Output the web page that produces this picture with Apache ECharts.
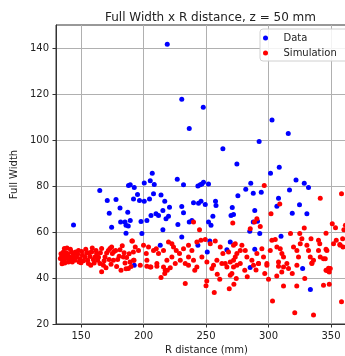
<!DOCTYPE html>
<html>
<head>
<meta charset="utf-8">
<script src="https://cdn.jsdelivr.net/npm/echarts@6/dist/echarts.min.js"></script>
<style>
  html, body { margin: 0; padding: 0; background: #fff; }
  #chart { width: 345px; height: 356px; }
</style>
</head>
<body>
<div id="chart"></div>
<script>
// [R distance (mm), Full Width]
const dataPoints = [
  [144, 63], [165, 78], [171, 73.7], [178, 74.1], [188, 80.2], [172.6, 68.2], [181.2, 70.4],
  [187.4, 68.6], [174.5, 62.1], [181.7, 64.3], [186, 62.9], [187.8, 62.6], [186, 59.5],
  [192.6, 45.5], [185.2, 64.3],
  [189.4, 80.5], [192.6, 79.4], [195.2, 76.3], [192, 74.4], [196.8, 73.7], [200.6, 73.4],
  [204.8, 74.4], [208, 76.6], [214, 76.1], [217, 73.4], [200.6, 81.3], [205.4, 82.3],
  [207, 85.5], [208.6, 80.6], [227, 82.9], [232, 80.5], [243.5, 80], [245.4, 80.5],
  [246.7, 80.9], [248, 81.6], [252, 80.9],
  [189.4, 65], [198, 64.6], [202.7, 65], [206, 67.2], [210, 67.9], [212, 67.2], [215.5, 69.4],
  [220.8, 70.8], [218, 65.8], [220, 66.8], [215.5, 61], [227.5, 63.3], [230.6, 71.1],
  [232, 68.4], [236.6, 64.3], [238.7, 65], [240, 72.7], [244, 72.5], [246, 73.4], [249.4, 72],
  [257.6, 73.4], [258, 71.5], [252, 64.3], [254, 62.9], [255.5, 66.8], [271, 70.6],
  [270, 67.2], [272, 67.6], [275.5, 75.8], [230.6, 57.8], [243.5, 54.2], [253, 56.1],
  [251, 51.3], [269.4, 55.6], [266.7, 52.3], [213.4, 54.2], [198.7, 59.3], [274.7, 89.6],
  [301.6, 85.5], [308.6, 88.1], [285.8, 81.2], [281.8, 78.6], [287.8, 76.8], [294.2, 77.3],
  [289, 69.4], [316.8, 78.3], [322, 82.6], [328.6, 81.2], [332, 79.4], [308, 74.7],
  [306.7, 71.2], [324.8, 71.8], [319, 68.2], [330.7, 67.9], [287.8, 64.3], [291.2, 64.7],
  [293, 59.3], [285, 60.3], [310, 58.2], [289, 52.5], [285.3, 44.6], [327.3, 44.1],
  [333.5, 35],
  [219, 141.6], [230.6, 117.7], [247.8, 114.2], [236.6, 105], [263.5, 96.2], [292.5, 99.4],
  [302.8, 108.7], [315.8, 102.8]
];

const simPoints = [
  // R 133-192
  [136.7, 52.8], [135.9, 51.3], [134.5, 49.1], [135.1, 47.7], [137.2, 48.4], [138.5, 49.9],
  [139.9, 47], [141.2, 49.1], [142.5, 51.3], [143.9, 50.3], [142, 48], [145.7, 51.3],
  [147.3, 50.3], [145.2, 47.7], [149.2, 48.4], [150, 46.6], [151.1, 49.9], [153.2, 49.1],
  [154.5, 50.9], [155.3, 47.7], [157.2, 49.4], [155.9, 46.3], [158.5, 51.3], [159.9, 48],
  [161.2, 49.1], [162.5, 50.6], [163.3, 47.7], [165.2, 46.3], [166.5, 42.7], [167.9, 45.5],
  [166.5, 52.8], [169.2, 49.1], [170.5, 50.9], [171.9, 52], [173.2, 52.8], [174.5, 53.5],
  [175.1, 50.6], [175.9, 47.7], [177.7, 52], [179.3, 48], [181.2, 52.3], [182, 43.4],
  [183.9, 49.1], [185.2, 46.5], [186.5, 48.9], [187.9, 44.1], [189.2, 47], [191.1, 56.1],
  [191.9, 51.3], [192.4, 47.7],
  [133.5, 48.5], [134, 50.5], [134.8, 46.2], [136, 49.5], [137, 46.5], [138, 51], [138.8, 53],
  [139.5, 50.5], [140.5, 48.5], [141.5, 52.5], [143, 47], [144, 49], [146.5, 49], [148, 52],
  [148.5, 47], [150.5, 51.5], [152, 47.5], [153.8, 52.5], [156.5, 51], [157.8, 45.5],
  [159, 53], [160.5, 46.5], [162, 52], [164, 49], [165.5, 51], [168.5, 47.5], [170, 44.5],
  [172.5, 48], [174, 46], [176.5, 51.5], [178.5, 45], [180.5, 49.5], [183, 54], [184.5, 51],
  [186, 44], [188.5, 50.5], [190, 45],
  // R 190-278
  [190.7, 56.1], [193.4, 53.5], [196, 52], [200, 54.2], [204, 53.5], [202.2, 50.6], [208, 52],
  [210.2, 52.7], [212, 50.6], [216, 52], [220, 55.6], [222.7, 54.9], [224, 53.5], [226.2, 52],
  [228.8, 50.6], [232, 52.7], [236, 54.2], [238.7, 52], [242.7, 55.6], [245.9, 56.4],
  [249.4, 56.7], [253.4, 54.9], [257.4, 56.1], [261.4, 53.5], [263.5, 50.6], [268, 51.3],
  [272, 54.2], [273.4, 49.1], [277.4, 52], [192, 47.7], [197.4, 45.5], [202.7, 47.7],
  [205.4, 44.8], [210.7, 46.3], [216, 44.8], [218.7, 47.7], [222.7, 49.1], [225.4, 46.3],
  [229.4, 47.7], [233.4, 46.3], [236, 49.1], [240, 47.7], [242.7, 44.8], [246.7, 49.1],
  [250.7, 47], [256, 45.5], [258.7, 47.7], [262.7, 46.3], [266.7, 44.8], [269.4, 47],
  [274.7, 45.5], [240, 64.3], [244.8, 61],
  [233.4, 37.6], [250, 36.6], [250.6, 38.7], [256.6, 33.7], [268.6, 35.3], [272.3, 37.3],
  [274.2, 39.8], [214, 40.2], [217, 42], [219, 43.4], [241, 43.4], [259, 41.6], [261, 39.5],
  [269.4, 41.2], [270.7, 42], [281, 43.4], [297, 42],
  [202.7, 45.1], [205.9, 44.8], [210.7, 45.1], [217.4, 43.4], [221.4, 44.5], [236, 45.5],
  [254.7, 44.1], [265.4, 46.3], [272, 44.8], [288, 45.5], [292, 46.3], [298.7, 46.3],
  [308, 45.1], [312, 44.8], [316, 44.1], [322.7, 45.5], [334.7, 46.5], [347.2, 43.1],
  [283, 40.5], [290, 43.5], [300, 39.5],
  // R 270-362
  [296.6, 80.2], [341.4, 74.7], [358.4, 76.6], [309, 72.2], [302, 67.9], [271.4, 63.9],
  [290.7, 65.8], [288.8, 64.3], [293.4, 62.4], [285.4, 61.4], [328.6, 61.7], [351, 63.6],
  [353.6, 61.9], [360.3, 61], [361.5, 62.9], [346, 59.5], [317.6, 59.3], [325, 59.3],
  [334, 57.1], [359.3, 57.1], [357, 54.6], [359.6, 53.5], [340, 56.4], [341, 54.9],
  [346, 52.5], [348, 44.2], [344, 48.4],
  [273.4, 54.9], [278.7, 54.2], [281.4, 52], [274.7, 50.6], [272, 47.7], [277.4, 46.3],
  [282.7, 49.1], [286.7, 47.7], [290.7, 50.6], [294.7, 52.7], [296, 49.1], [292, 46.3],
  [298.7, 45.5], [301.4, 52], [302.7, 56.4], [305.4, 56.7], [306.7, 53.5], [309.4, 52.7],
  [310.7, 50.6], [312, 49.1], [308, 47], [314.7, 46.3], [320, 53.5], [322.7, 52], [324, 49.1],
  [325.4, 54.9], [326.7, 57.1], [330.7, 54.2], [332, 52], [333.4, 49.1], [334.7, 46.3],
  [336, 47.7], [340, 52], [341.4, 49.1], [345.4, 48.4], [346.7, 52], [349.4, 44.1],
  [352, 54.9], [354.2, 56.4], [357.4, 54.2],
  [303.2, 30], [321, 24.9], [336, 23.9], [358.4, 29.7], [344, 36.9], [348.6, 37.3],
  [312, 36.5], [322.6, 36.5], [329, 39.8], [306.6, 40.9], [310.6, 42.6], [319, 42],
  [346, 43.4], [348.6, 42.6]
];

const xTicks = [150, 200, 250, 300, 350];
const yTicks = [20, 40, 60, 80, 100, 120, 140];

const chart = echarts.init(document.getElementById('chart'));

const axisText = { color: '#222', fontSize: 10, fontFamily: 'DejaVu Sans' };
const gridLine = { show: true, lineStyle: { color: '#b0b0b0', width: 1 } };

chart.setOption({
  animation: false,
  backgroundColor: '#fff',
  title: {
    text: 'Full Width x R distance, z = 50 mm',
    left: 100,
    top: 7,
    textStyle: { color: '#222', fontSize: 12, fontWeight: 'normal', fontFamily: 'DejaVu Sans' }
  },
  legend: {
    orient: 'vertical',
    left: 260,
    top: 29,
    padding: [3, 20, 2, 3],
    itemWidth: 22,
    itemHeight: 5,
    itemGap: 3,
    icon: 'circle',
    backgroundColor: 'rgba(255,255,255,0.85)',
    borderColor: '#d0d0d0',
    borderWidth: 1,
    borderRadius: 3,
    textStyle: { color: '#222', fontSize: 10, lineHeight: 12, fontFamily: 'DejaVu Sans', padding: [0, 0, 0, 2] },
    data: ['Data', 'Simulation']
  },
  grid: {
    left: 56, right: -12, top: 25, bottom: 32,
    outerBoundsMode: 'none',
    show: true, borderColor: '#333', borderWidth: 1
  },
  xAxis: {
    type: 'value',
    min: 130,
    max: 370.8,
    name: 'R distance (mm)',
    nameLocation: 'middle',
    nameGap: 20,
    nameTextStyle: axisText,
    axisLine: { show: true, lineStyle: { color: '#333' } },
    axisTick: { show: true, length: 3.5, lineStyle: { color: '#333' }, customValues: xTicks },
    axisLabel: Object.assign({ margin: 7, customValues: xTicks }, axisText),
    splitLine: gridLine
  },
  yAxis: {
    type: 'value',
    min: 20,
    max: 150,
    name: 'Full Width',
    nameLocation: 'middle',
    nameGap: 32,
    nameTextStyle: axisText,
    axisLine: { show: true, lineStyle: { color: '#333' } },
    axisTick: { show: true, length: 3.5, lineStyle: { color: '#333' }, customValues: yTicks },
    axisLabel: Object.assign({ margin: 7, customValues: yTicks }, axisText),
    splitLine: gridLine
  },
  series: [
    {
      name: 'Data',
      type: 'scatter',
      symbolSize: 5,
      itemStyle: { color: '#0000ff', opacity: 1 },
      data: dataPoints
    },
    {
      name: 'Simulation',
      type: 'scatter',
      symbolSize: 5,
      itemStyle: { color: '#ff0000', opacity: 1 },
      data: simPoints
    }
  ]
});
</script>
</body>
</html>
